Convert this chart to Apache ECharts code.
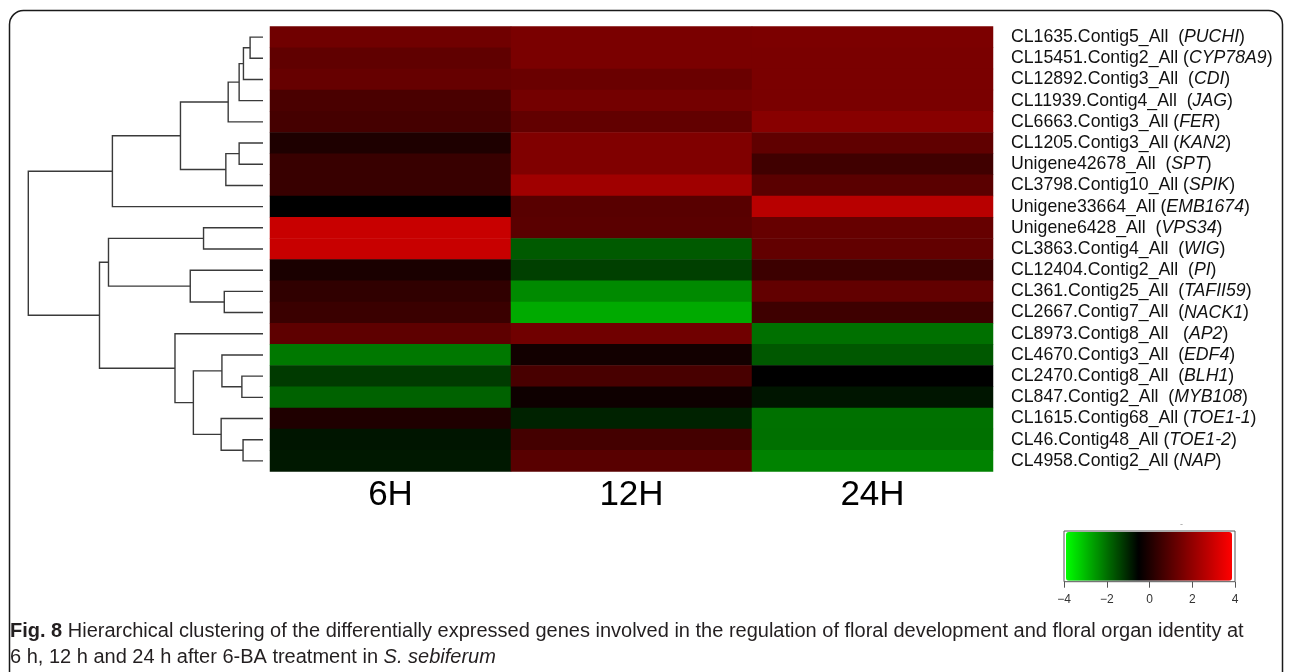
<!DOCTYPE html>
<html>
<head>
<meta charset="utf-8">
<script src="https://cdn.jsdelivr.net/npm/echarts@6/dist/echarts.min.js"></script>
<style>
  html, body { margin: 0; padding: 0; background: #ffffff; }
  #chart { width: 1290px; height: 672px; }
</style>
</head>
<body>
<div id="chart"></div>
<script>
// Time points after 6-BA treatment (heatmap columns)
const timePoints = ['6H', '12H', '24H'];

// Gene rows, top to bottom (gene symbol in parentheses is set in italics)
const rowLabels = [
  'CL1635.Contig5_All  (PUCHI)',
  'CL15451.Contig2_All (CYP78A9)',
  'CL12892.Contig3_All  (CDI)',
  'CL11939.Contig4_All  (JAG)',
  'CL6663.Contig3_All (FER)',
  'CL1205.Contig3_All (KAN2)',
  'Unigene42678_All  (SPT)',
  'CL3798.Contig10_All (SPIK)',
  'Unigene33664_All (EMB1674)',
  'Unigene6428_All  (VPS34)',
  'CL3863.Contig4_All  (WIG)',
  'CL12404.Contig2_All  (PI)',
  'CL361.Contig25_All  (TAFII59)',
  'CL2667.Contig7_All  (NACK1)',
  'CL8973.Contig8_All   (AP2)',
  'CL4670.Contig3_All  (EDF4)',
  'CL2470.Contig8_All  (BLH1)',
  'CL847.Contig2_All  (MYB108)',
  'CL1615.Contig68_All (TOE1-1)',
  'CL46.Contig48_All (TOE1-2)',
  'CL4958.Contig2_All (NAP)'
];

// Relative expression (log2 ratio) per time point, same row order
const hour6 = [1.48, 1.19, 1.30, 0.81, 0.72, 0.03, 0.49, 0.49, -0.50, 3.03, 3.03,
               -0.04, 0.35, 0.52, 1.16, -2.15, -1.30, -1.85, 0.06, -0.79, -0.83];
const hour12 = [1.65, 1.65, 1.37, 1.55, 1.23, 1.76, 1.76, 2.32, 1.05, 1.09, -1.74,
                -1.38, -2.39, -2.83, 1.48, -0.18, 0.77, -0.25, -0.97, 0.70, 1.05];
const hour24 = [1.69, 1.65, 1.65, 1.65, 1.90, 1.19, 0.63, 1.09, 2.75, 1.30, 1.23,
                0.56, 1.23, 0.59, -2.04, -1.71, -0.50, -0.79, -2.06, -2.04, -2.28];

// Row dendrogram, hclust style: negative = leaf (-1 is the first row),
// positive = earlier merge (1-based), then the merge height
const merges = [
  [-1, -2, 0.33],
  [1, -3, 0.50],
  [2, -4, 0.61],
  [3, -5, 0.89],
  [-6, -7, 0.61],
  [5, -8, 0.95],
  [4, 6, 2.11],
  [7, -9, 3.85],
  [-10, -11, 1.52],
  [-13, -14, 0.99],
  [-12, 10, 1.86],
  [9, 11, 3.95],
  [-17, -18, 0.54],
  [-16, 13, 1.05],
  [-20, -21, 0.51],
  [-19, 15, 1.07],
  [14, 16, 1.78],
  [-15, 17, 2.25],
  [12, 18, 4.18],
  [8, 19, 6.00]
];

// Colour key range
const keyMin = -4;
const keyMax = 4;

// ---- build heatmap cells ----
const columns = [hour6, hour12, hour24];
const cells = [];
columns.forEach((col, x) => col.forEach((v, y) => cells.push([x, y, v])));

// ---- dendrogram segments: [childA height, childA y, merge height, childB y, childB height]
const mergeY = [];
const nodeY = ref => ref < 0 ? (-ref - 1) + 0.5 : mergeY[ref - 1];
const nodeH = ref => ref < 0 ? 0 : merges[ref - 1][2];
const treeSegments = merges.map(([a, b, h], i) => {
  const ya = nodeY(a), yb = nodeY(b);
  mergeY[i] = (ya + yb) / 2;
  return [nodeH(a), ya, h, yb, nodeH(b)];
});

// green -> black (just below zero) -> red
const keyColors = [];
for (let k = 0; k <= 16; k++) {
  const v = keyMin + k * 0.5;
  if (v <= -0.5) {
    const g = Math.round(255 * (-0.5 - v) / 3.5);
    keyColors.push(`rgb(0,${g},0)`);
  } else {
    const r = Math.round(255 * (v + 0.5) / 4.5);
    keyColors.push(`rgb(${r},0,0)`);
  }
}

const chart = echarts.init(document.getElementById('chart'), null, { renderer: 'canvas' });

const captionFont = 'Liberation Sans, Arial, sans-serif';

const option = {
  backgroundColor: '#ffffff',
  animation: false,
  textStyle: { fontFamily: 'Liberation Sans, Arial, sans-serif' },
  grid: [
    { left: 270, top: 26.5, width: 723, height: 445 },
    { left: 28.3, top: 26.5, width: 234.7, height: 445 },
    { left: 1064, top: 531, width: 171, height: 50.7, show: true,
      borderColor: '#555555', borderWidth: 1, backgroundColor: 'transparent' }
  ],
  xAxis: [
    {
      type: 'category', gridIndex: 0, data: timePoints, position: 'bottom',
      axisLine: { show: false }, axisTick: { show: false }, splitLine: { show: false },
      axisLabel: { fontSize: 35, color: '#000000', margin: 6 }
    },
    { type: 'value', gridIndex: 1, min: 0, max: 6, inverse: true, show: false },
    {
      type: 'value', gridIndex: 2, min: keyMin, max: keyMax, interval: 2, position: 'bottom',
      axisLine: { show: false },
      axisTick: { show: true, length: 6, inside: false, lineStyle: { color: '#555555' } },
      splitLine: { show: false },
      axisLabel: { fontSize: 12, color: '#333333', margin: 12,
        formatter: v => (v < 0 ? '\u2212' + Math.abs(v) : String(v)) }
    }
  ],
  yAxis: [
    {
      type: 'category', gridIndex: 0, data: rowLabels, inverse: true, position: 'right',
      axisLine: { show: false }, axisTick: { show: false }, splitLine: { show: false },
      axisLabel: {
        interval: 0, margin: 18, fontSize: 17.7, color: '#111111', align: 'left',
        formatter: s => s.replace(/\(([^)]+)\)/, '({i|$1})'),
        rich: { i: { fontSize: 17.7, fontStyle: 'italic', color: '#111111' } }
      }
    },
    { type: 'value', gridIndex: 1, min: 0, max: 21, inverse: true, show: false },
    { type: 'value', gridIndex: 2, min: 0, max: 1, show: false }
  ],
  visualMap: {
    type: 'continuous', seriesIndex: 0, min: keyMin, max: keyMax,
    orient: 'horizontal', left: 1066, top: 532, padding: 0,
    itemWidth: 48.7, itemHeight: 166, calculable: false, hoverLink: false,
    text: null, inRange: { color: keyColors }
  },
  series: [
    {
      type: 'heatmap', xAxisIndex: 0, yAxisIndex: 0, data: cells,
      itemStyle: { borderWidth: 0 }, emphasis: { disabled: true }
    },
    {
      type: 'custom', xAxisIndex: 1, yAxisIndex: 1, data: treeSegments,
      encode: { x: [0, 2, 4], y: [1, 3] }, silent: true,
      renderItem: (params, api) => {
        const p1 = api.coord([api.value(0), api.value(1)]);
        const p2 = api.coord([api.value(2), api.value(1)]);
        const p3 = api.coord([api.value(2), api.value(3)]);
        const p4 = api.coord([api.value(4), api.value(3)]);
        return {
          type: 'polyline',
          shape: { points: [p1, p2, p3, p4] },
          style: { stroke: '#3a3a3a', lineWidth: 1.4, fill: null }
        };
      }
    }
  ],
  graphic: [
    {
      type: 'rect', silent: true,
      shape: { x: 9.5, y: 10.5, width: 1273, height: 720, r: 14 },
      style: { fill: null, stroke: '#1a1a1a', lineWidth: 1.5 }
    },
    {
      type: 'text', x: 1180, y: 520, silent: true,
      style: { text: '-', fontSize: 9, fill: '#999999' }
    },
    {
      type: 'text', x: 10, y: 618, silent: true,
      style: {
        text: '{b|Fig. 8} Hierarchical clustering of the differentially expressed genes involved in the regulation of floral development and floral organ identity at\n6 h, 12 h and 24 h after 6-BA treatment in {i|S. sebiferum}',
        fontFamily: captionFont,
        fontSize: 20, lineHeight: 26, fill: '#231f20',
        rich: {
          b: { fontWeight: 'bold', fontSize: 20, lineHeight: 26, fontFamily: captionFont, fill: '#231f20' },
          i: { fontStyle: 'italic', fontSize: 20, lineHeight: 26, fontFamily: captionFont, fill: '#231f20' }
        }
      }
    }
  ]
};

chart.setOption(option);
</script>
</body>
</html>
